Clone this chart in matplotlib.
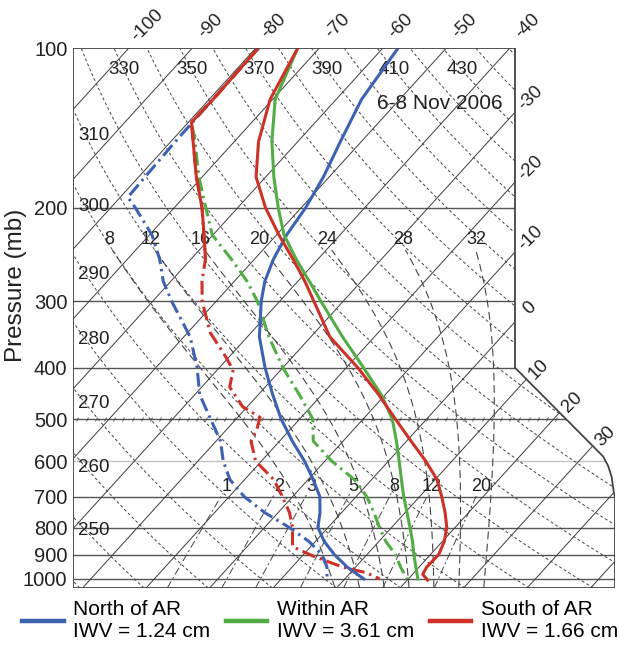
import numpy as np
import matplotlib
matplotlib.use("Agg")
import matplotlib.pyplot as plt
from matplotlib.patches import Polygon
from matplotlib.lines import Line2D
from matplotlib.markers import MarkerStyle
from matplotlib.transforms import Affine2D

plt.rcParams['font.family'] = ['Liberation Sans', 'DejaVu Sans']

# composite soundings, 6-8 Nov 2006 (p in mb, temperatures in deg C)
p_temp = [100, 125, 150, 175, 200, 225, 250, 275, 300, 350, 400, 450,
          500, 550, 600, 650, 700, 750, 800, 850, 900, 950, 1000]
t_north = [-57.6, -56.0, -53.3, -50.9, -49.3, -48.4, -47.0, -45.2, -42.9, -38.1, -32.8, -27.7,
           -22.9, -18.0, -13.2, -9.2, -5.7, -3.4, -1.6, 1.4, 4.9, 8.7, 13.0]
t_within = [-73.4, -69.6, -64.1, -58.7, -53.6, -48.8, -43.4, -38.2, -33.5, -25.0, -17.3, -10.6,
            -5.4, -1.6, 1.7, 4.7, 7.5, 10.3, 12.9, 15.3, 17.4, 19.5, 21.5]
p_south = [100, 125, 150, 175, 200, 225, 250, 275, 300, 350, 400, 450,
           500, 550, 600, 650, 700, 750, 800, 850, 900, 950, 980, 1005]
t_south = [-73.4, -70.4, -66.2, -61.5, -55.6, -49.6, -43.9, -38.9, -34.6, -27.0, -18.2, -11.0,
           -4.9, 0.7, 5.9, 10.3, 13.5, 16.3, 18.7, 20.3, 21.3, 21.2, 21.6, 23.2]

p_dew_north = [100, 125, 150, 175, 191, 200, 225, 250, 275, 300, 350, 400, 450,
               500, 550, 600, 650, 700, 750, 800, 850, 900, 950, 1000]
td_north = [-79.6, -79.4, -79.3, -79.0, -78.8, -76.1, -69.6, -64.9, -61.2, -57.0, -49.0, -43.5, -39.2,
            -34.0, -29.3, -26.0, -22.3, -17.6, -12.1, -6.1, -1.0, 2.9, 5.5, 7.2]
p_dew_within = [100, 125, 138, 150, 175, 200, 225, 250, 275, 300, 350, 400, 450,
                500, 550, 600, 650, 700, 750, 800, 850, 900, 950, 1000]
td_within = [-79.6, -79.4, -79.5, -76.2, -70.5, -65.0, -60.1, -53.6, -48.0, -43.5, -36.6, -30.0, -23.5,
             -17.9, -14.7, -8.9, -2.7, 1.7, 5.1, 8.1, 11.1, 14.5, 17.1, 19.8]
p_dew_south = [100, 125, 138, 150, 175, 200, 225, 250, 275, 300, 344, 375, 404, 435, 474,
               496, 524, 550, 600, 650, 700, 750, 800, 850, 870, 906, 950, 974, 1000]
td_south = [-79.6, -79.4, -79.5, -76.5, -70.9, -65.6, -61.4, -57.7, -55.1, -52.2, -46.4, -41.5, -37.5, -35.6, -30.7,
            -26.5, -25.2, -24.5, -20.9, -15.4, -11.6, -8.2, -5.6, -3.6, -2.8, 1.8, 8.0, 12.6, 15.5]

labels = ['North of AR\nIWV = 1.24 cm', 'Within AR\nIWV = 3.61 cm', 'South of AR\nIWV = 1.66 cm']
colors = ['#3d62b3', '#52ad45', '#cc3227']

# background lines of the diagram
isotherms = np.arange(-130, 70, 10)
theta_lines = np.arange(230, 470, 10)
theta_top_labels = [330, 350, 370, 390, 410, 430]
theta_left_labels = [250, 260, 270, 280, 290, 300, 310]
thetaw_lines = [8, 12, 16, 20, 24, 28, 32]
mixing_lines = [1, 2, 3, 5, 8, 12, 20]
isobars = [200, 300, 400, 500, 600, 700, 800, 900, 1000]

SKEW = 76.0   # deg C of skew per decade of pressure
X_LEFT, X_RIGHT, X_FAR = -32.8, 36.8, 52.55
P_TOP, P_BOT = 100, 1040


def skew_x(t, p):
    return np.asarray(t, dtype=float) + SKEW * np.log10(1000.0 / np.asarray(p, dtype=float))


def moist_adiabat(tw, p):
    t = tw + 273.15
    out = [t]
    for i in range(1, len(p)):
        tc = t - 273.15
        es = 6.112 * np.exp(17.67 * tc / (tc + 243.5))
        rs = 0.622 * es / (p[i - 1] - es)
        num = 287.04 * t + 2.501e6 * rs
        den = 1005.7 + 2.501e6 ** 2 * rs * 0.622 / (287.04 * t ** 2)
        t = t + (p[i] - p[i - 1]) / p[i - 1] * num / den
        out.append(t)
    return np.array(out) - 273.15


def dew_from_w(w, p):
    es = w * p / (622.0 + w)
    a = np.log(es / 6.112)
    return 243.5 * a / (17.67 - a)


fig = plt.figure(figsize=(6.2, 6.45), dpi=100)
ax = fig.add_axes([73 / 620, 57 / 645, 542 / 620, 540 / 645])
ax.set_yscale('log')
ax.set_ylim(P_BOT, P_TOP)
ax.set_xlim(X_LEFT, X_FAR)
for s in ax.spines.values():
    s.set_visible(False)

frame_pts = [(X_LEFT, P_TOP), (X_RIGHT, P_TOP), (X_RIGHT, 400), (50.69, 588), (51.48, 613),
             (52.02, 642), (52.38, 689), (X_FAR, 700), (X_FAR, P_BOT), (X_LEFT, P_BOT)]
frame = Polygon(frame_pts, closed=True, fill=False, edgecolor='#444444', lw=1.3, zorder=6)
ax.add_patch(frame)

bg = []
for pb in isobars:
    c = '#c4c4c4' if pb == 600 else '#555555'
    bg += ax.plot([X_LEFT, X_FAR], [pb, pb], color=c, lw=1.0, zorder=1)

for T in isotherms:
    bg += ax.plot(skew_x([T, T], [P_BOT, P_TOP]), [P_BOT, P_TOP], color='#3c3c3c', lw=0.7, zorder=1)

pg = np.geomspace(P_BOT, P_TOP, 80)
for th in theta_lines:
    tt = th * (pg / 1000.0) ** 0.286 - 273.15
    bg += ax.plot(skew_x(tt, pg), pg, color='#444444', lw=0.7, ls=(0, (3, 2.5)), zorder=1)

p_up = np.linspace(1000, 240, 300)
p_dn = np.linspace(1000, P_BOT, 10)
for tw in thetaw_lines:
    tu = moist_adiabat(tw, p_up)
    td = moist_adiabat(tw, p_dn)
    pp = np.concatenate([p_dn[::-1], p_up[1:]])
    tt = np.concatenate([td[::-1], tu[1:]])
    bg += ax.plot(skew_x(tt, pp), pp, color='#444444', lw=0.8, ls=(0, (7, 4)), zorder=1)
    tl = moist_adiabat(tw, np.linspace(1000, 229, 300))[-1]
    ax.text(skew_x(tl, 229) + 0.6, 229, str(tw), fontsize=13, ha='center', va='center', color='#222222')

pm = np.geomspace(P_BOT, 690, 20)
for w in mixing_lines:
    bg += ax.plot(skew_x(dew_from_w(w, pm), pm), pm, color='#444444', lw=0.7,
                  ls=(0, (8, 3, 2, 3)), zorder=1)
    ax.text(skew_x(dew_from_w(w, 670), 670), 670, str(w), fontsize=13, ha='center', va='center',
            color='#222222')

for ln in bg:
    ln.set_clip_path(frame)

# hatch marks along the 500 mb line
x500 = np.arange(X_LEFT + 0.7, 44.6, 1.45)
ax.plot(x500, np.full_like(x500, 500), ls='none', color='#444444', ms=4, mew=0.6,
        marker=MarkerStyle('|', transform=Affine2D().rotate_deg(-30)), zorder=2)

# dry adiabat labels
for th in theta_top_labels:
    t110 = th * 0.11 ** 0.286 - 273.15
    ax.text(skew_x(t110, 110), 110, str(th), fontsize=13.5, ha='center', va='center', color='#222222')
for th in theta_left_labels:
    xx = skew_x(th * (pg / 1000.0) ** 0.286 - 273.15, pg)
    order = np.argsort(xx)
    pl = np.interp(X_LEFT + 2.0, xx[order], pg[order])
    ax.text(X_LEFT + 0.8, pl, str(th), fontsize=13.5, ha='left', va='center', color='#222222')

# isotherm labels
for T in range(-100, -30, 10):
    ax.annotate(str(T), (skew_x(T, P_TOP), P_TOP), xytext=(13, 16), textcoords='offset points',
                rotation=45, ha='center', va='center', fontsize=13.5, color='#222222',
                annotation_clip=False)
for T in range(-30, 10, 10):
    pc = 1000.0 * 10 ** (-(X_RIGHT - T) / SKEW)
    ax.annotate(str(T), (X_RIGHT, pc), xytext=(11, 10), textcoords='offset points',
                rotation=45, ha='center', va='center', fontsize=13.5, color='#222222',
                annotation_clip=False)
k = (50.69 - X_RIGHT) / (np.log10(588) - np.log10(400))
for T in range(10, 40, 10):
    L = (T + 3 * SKEW - X_RIGHT + k * np.log10(400)) / (k + SKEW)
    pc = 10 ** L
    ax.annotate(str(T), (skew_x(T, pc), pc), xytext=(9, 7), textcoords='offset points',
                rotation=45, ha='center', va='center', fontsize=13.5, color='#222222',
                annotation_clip=False)

# soundings
temps = [(p_temp, t_north), (p_temp, t_within), (p_south, t_south)]
dews = [(p_dew_north, td_north), (p_dew_within, td_within), (p_dew_south, td_south)]
for (pt, tt), (pd, tdw), c in zip(temps, dews, colors):
    ax.plot(skew_x(tdw, pd), pd, color=c, lw=2.2, ls=(0, (4.5, 1.6, 0.8, 1.6)), zorder=4)
    ax.plot(skew_x(tt, pt), pt, color=c, lw=2.2, zorder=5)
pd_s = np.array(p_dew_south)
top = pd_s <= 250
ax.plot(skew_x(np.array(td_south)[top], pd_s[top]), pd_s[top], color=colors[2], lw=2.2, zorder=5)

ax.text(0.561, 0.898, '6-8 Nov 2006', transform=ax.transAxes, fontsize=15, ha='left', va='center',
        color='#222222')

ax.set_xticks([])
ax.set_yticks([100] + isobars)
ax.set_yticklabels([str(p) for p in [100] + isobars])
ax.yaxis.set_minor_locator(matplotlib.ticker.NullLocator())
ax.tick_params(axis='y', length=0, pad=4, labelsize=14.5, labelcolor='#222222')
ax.set_ylabel('Pressure (mb)', fontsize=17.5, color='#222222')
ax.yaxis.set_label_coords(-0.085, 0.56)

handles = [Line2D([], [], color=c, lw=3.2) for c in colors]
fig.legend(handles, labels, loc='upper left', bbox_to_anchor=(22 / 620, 1 - 600 / 645), ncol=3,
           frameon=False, fontsize=15, handlelength=2.0, handletextpad=0.45, columnspacing=0.75,
           borderpad=0, borderaxespad=0, labelspacing=0.2)

fig.savefig('out.png', dpi=100)
